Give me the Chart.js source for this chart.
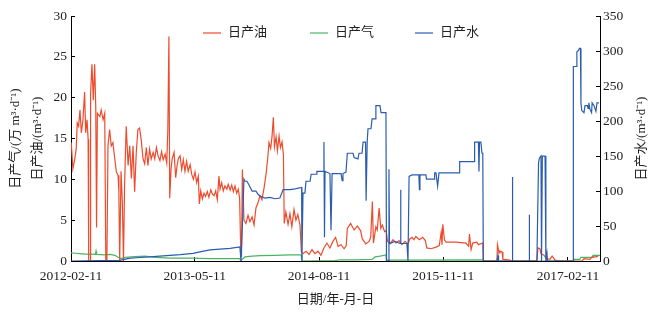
<!DOCTYPE html>
<html>
<head>
<meta charset="utf-8">
<script src="https://cdn.jsdelivr.net/npm/chart.js@4.4.1/dist/chart.umd.min.js"></script>
<style>
    body { margin: 0; background: #ffffff; }
    #grafico { display: block; }
</style>
</head>
<body>
<canvas id="grafico" width="656" height="312"></canvas>
<script>
// datas do eixo x (dias contados a partir de dataInicio)
const dataInicio = '2012-02-11';
const dataFim = '2017-06-09';
const rotulosX = ['2012-02-11', '2013-05-11', '2014-08-11', '2015-11-11', '2017-02-11'];

const nomesSeries = ['日产油', '日产气', '日产水'];

// 日产油 (m3/d), eixo esquerdo
const diasOleo = [
    1, 7, 14, 19, 23, 28, 33, 38, 44, 50,
    54, 59, 63, 65, 70, 72, 77, 82, 87, 91,
    94, 97, 106, 111, 118, 124, 128, 132, 136, 142,
    148, 154, 161, 167, 173, 176, 179, 184, 189, 193,
    197, 203, 210, 216, 222, 228, 234, 240, 246, 252,
    258, 265, 271, 277, 283, 289, 295, 302, 308, 314,
    320, 327, 333, 339, 346, 352, 356, 360, 363, 368,
    372, 379, 385, 390, 395, 401, 407, 413, 419, 425,
    431, 438, 444, 450, 456, 462, 468, 472, 477, 483,
    489, 495, 501, 507, 514, 520, 526, 532, 538, 544,
    548, 554, 560, 566, 573, 578, 585, 591, 597, 603,
    609, 615, 620, 624, 627, 630, 636, 643, 651, 658,
    666, 673, 680, 688, 695, 702, 710, 717, 723, 728,
    734, 739, 744, 748, 754, 759, 765, 770, 776, 781,
    784, 790, 798, 805, 812, 820, 827, 834, 842, 847,
    853, 864, 875, 886, 897, 908, 919, 930, 941, 952,
    963, 973, 982, 993, 1004, 1012, 1016, 1028, 1041, 1053,
    1065, 1071, 1084, 1096, 1102, 1108, 1112, 1121, 1126, 1133,
    1139, 1145, 1153, 1159, 1164, 1173, 1184, 1195, 1206, 1217,
    1228, 1239, 1246, 1254, 1261, 1268, 1281, 1293, 1303, 1308,
    1324, 1342, 1354, 1361, 1364, 1367, 1373, 1379, 1416, 1452,
    1462, 1465, 1471, 1477, 1492, 1498, 1514, 1516, 1566, 1568,
    1574, 1577, 1585, 1588, 1614, 1621, 1713, 1717, 1724, 1728,
    1739, 1747, 1761, 1769, 1780, 1798, 1879, 1886, 1908, 1916,
    1930, 1938
];
const valoresOleo = [
    14.5, 11.3, 12.5, 13.7, 16.9, 16.5, 18.5, 15.7, 17.3, 20.7,
    15.7, 17.3, 14.9, 0, 0, 20.5, 24.1, 19.7, 24.1, 18.9,
    4.1, 18.1, 17.7, 18.5, 17.3, 18.1, 0, 0, 14.1, 16.1,
    14.1, 14.5, 12.5, 10.9, 10.5, 8.5, 0, 11, 7, 0,
    9.3, 16.5, 11.7, 14.1, 10.1, 14.1, 8.5, 13.3, 16.1, 16.3,
    14.9, 12.5, 11.9, 13.9, 11.7, 13.7, 12.5, 13.3, 12.5, 13.9,
    12.9, 12.3, 13.4, 12.4, 13.1, 12.0, 16, 27.5, 7.7, 11.3,
    12.5, 13.3, 10.2, 11.7, 12.6, 12.9, 11.2, 12.4, 11.0, 12.2,
    11.0, 11.8, 10.6, 10.0, 10.9, 9.6, 10.4, 7.0, 8.6, 7.6,
    8.3, 7.9, 8.5, 7.8, 8.7, 8.2, 8.0, 8.6, 7.5, 10.4,
    8.8, 9.6, 8.6, 9.2, 8.8, 9.4, 8.7, 9.3, 8.5, 9.2,
    8.3, 8.8, 7.7, 1.3, 0.5, 11.2, 5.0, 4.6, 5.6, 4.8,
    5.4, 4.4, 6.5, 7.2, 8.0, 7.5, 9.0, 10.6, 12.5, 14.5,
    13.8, 15.2, 17.6, 14.0, 15.2, 13.5, 15.3, 13.9, 14.6, 13.0,
    4.6, 6.0, 4.5, 5.8, 4.2, 6.3, 5.0, 5.7, 4.4, 1.1,
    0.9, 1.2, 0.8, 1.4, 0.9, 1.2, 0.7, 1.6, 2.2, 1.6,
    2.4, 2.9, 1.8, 2.0, 1.5, 1.9, 4.0, 4.6, 3.8, 4.3,
    3.7, 2.7, 2.1, 2.4, 2.9, 7.3, 2.2, 4.2, 3.8, 6.5,
    4.0, 4.4, 3.6, 3.7, 2.4, 2.1, 2.6, 2.2, 2.5, 2.0,
    2.4, 2.1, 2.7, 2.9, 2.6, 3.0, 2.6, 2.9, 2.5, 1.6,
    1.5, 1.7, 1.9, 3.5, 2.0, 4.5, 2.6, 2.3, 2.3, 2.2,
    1.8, 3.3, 1.4, 2.2, 2.3, 2.0, 2.2, 0, 0, 2.0,
    1.0, 1.2, 1.1, 0.2, 0.1, 0, 0, 1.6, 1.5, 0.9,
    0.7, 0.3, 0.2, 0.6, 0.1, 0, 0, 0.3, 0.2, 0.5,
    0.5, 0.6
];

// 日产气 (万m3/d), eixo esquerdo
const diasGas = [
    0, 15, 33, 51, 70, 90, 92, 94, 125, 143,
    162, 173, 184, 199, 235, 272, 309, 364, 438, 511,
    566, 618, 625, 640, 666, 695, 750, 805, 846, 849,
    971, 989, 1044, 1107, 1118, 1136, 1158, 1160, 1515, 1519,
    1846, 1849, 1871, 1875, 1916, 1919, 1945
];
const valoresGas = [
    1.0, 0.95, 0.9, 0.85, 0.85, 0.8, 1.2, 0.8, 0.75, 0.8,
    0.7, 0.45, 0.3, 0.45, 0.55, 0.6, 0.45, 0.35, 0.35, 0.3,
    0.3, 0.3, 0.1, 0.5, 0.6, 0.65, 0.7, 0.75, 0.75, 0,
    0.05, 0.15, 0.15, 0.2, 0.5, 0.6, 0.75, 0.1, 0.15, 0,
    0, 0.2, 0.2, 0.45, 0.45, 0.7, 0.7
];

// 日产水 (m3/d), eixo direito
const diasAgua = [
    0, 107, 180, 191, 217, 254, 290, 327, 364, 401,
    449, 474, 511, 548, 585, 621, 625, 631, 636, 640,
    647, 654, 666, 680, 688, 695, 713, 732, 750, 768,
    780, 805, 824, 848, 849, 853, 860, 864, 879, 883,
    901, 904, 927, 930, 932, 934, 952, 956, 960, 993,
    997, 1000, 1011, 1016, 1037, 1041, 1055, 1059, 1070, 1074,
    1083, 1085, 1089, 1092, 1103, 1107, 1118, 1121, 1136, 1140,
    1158, 1160, 1167, 1169, 1171, 1191, 1210, 1212, 1213, 1235,
    1239, 1243, 1254, 1268, 1279, 1281, 1283, 1305, 1307, 1335,
    1337, 1342, 1348, 1353, 1427, 1429, 1482, 1484, 1498, 1500,
    1502, 1507, 1511, 1514, 1516, 1566, 1570, 1572, 1622, 1623,
    1624, 1684, 1685, 1686, 1713, 1719, 1722, 1728, 1730, 1733,
    1743, 1746, 1750, 1752, 1846, 1847, 1858, 1860, 1866, 1869,
    1873, 1875, 1878, 1886, 1890, 1899, 1901, 1904, 1908, 1914,
    1916, 1923, 1930, 1934, 1941
];
const valoresAgua = [
    0, 0.5, 1, 2, 4, 5, 6, 7, 8, 9,
    11, 13, 16, 17, 18, 20, 0, 60, 117, 114,
    114, 109, 100, 100, 95, 93, 90, 91, 89, 90,
    102, 102, 103, 105, 0, 97, 97, 114, 114, 124,
    124, 128, 128, 170, 34, 128, 125, 44, 125, 125,
    115, 125, 127, 154, 154, 148, 146, 154, 154, 170,
    170, 86, 170, 189, 189, 203, 203, 222, 222, 212,
    212, 0, 0, 131, 25, 28, 25, 102, 25, 25,
    0, 121, 123, 123, 123, 102, 123, 123, 117, 117,
    126, 126, 107, 126, 126, 142, 142, 170, 170, 128,
    170, 170, 154, 154, 0, 0, 8, 0, 0, 120,
    0, 0, 66, 0, 0, 140, 147, 150, 0, 150,
    150, 0, 11, 0, 0, 278, 278, 299, 301, 304,
    304, 226, 215, 212, 222, 222, 218, 226, 217, 212,
    226, 222, 214, 226, 226
];

const coresSeries = ['#ee4b2d', '#4bb463', '#2a5cb0'];
const fonteTexto = "'Liberation Serif', 'Noto Sans CJK SC', serif";
const corTexto = '#222222';

function diasDesde(data) {
    return (Date.parse(data) - Date.parse(dataInicio)) / 86400000;
}

function montarPontos(dias, valores) {
    let pontos = [];
    for (let i = 0; i < dias.length; i++) {
        pontos.push({ x: dias[i], y: valores[i] });
    }
    return pontos;
}

// legenda dentro da area do grafico + titulo do eixo direito (lido de baixo para cima)
const pluginExtras = {
    id: 'extras',
    afterDraw: function (chart) {
        const ctx = chart.ctx;
        const posX = [203, 310, 415];
        const posY = 33;
        ctx.save();
        ctx.font = '13px ' + fonteTexto;
        ctx.textBaseline = 'middle';
        ctx.textAlign = 'left';
        chart.data.datasets.forEach(function (ds, i) {
            ctx.strokeStyle = ds.borderColor;
            ctx.lineWidth = 1.2;
            ctx.beginPath();
            ctx.moveTo(posX[i], posY);
            ctx.lineTo(posX[i] + 18, posY);
            ctx.stroke();
            ctx.fillStyle = corTexto;
            ctx.fillText(ds.label, posX[i] + 25, posY);
        });

        const area = chart.chartArea;
        ctx.translate(642, (area.top + area.bottom) / 2);
        ctx.rotate(-Math.PI / 2);
        ctx.textAlign = 'center';
        ctx.fillText('日产水/(m³·d⁻¹)', 0, 0);
        ctx.restore();
    }
};

function plotarGrafico() {
    console.log('iniciando plotagem do gráfico...');

    let dados = {
        datasets: [{
            label: nomesSeries[0],
            data: montarPontos(diasOleo, valoresOleo),
            borderColor: coresSeries[0],
            yAxisID: 'y',
            order: 1
        }, {
            label: nomesSeries[1],
            data: montarPontos(diasGas, valoresGas),
            borderColor: coresSeries[1],
            yAxisID: 'y',
            order: 2
        }, {
            label: nomesSeries[2],
            data: montarPontos(diasAgua, valoresAgua),
            borderColor: coresSeries[2],
            yAxisID: 'y1',
            order: 0
        }]
    };

    dados.datasets.forEach(function (ds) {
        ds.borderWidth = 1.2;
        ds.pointRadius = 0;
        ds.tension = 0;
        ds.fill = false;
    });

    const fonteTicks = { family: fonteTexto, size: 13.5 };
    const fonteTitulo = { family: fonteTexto, size: 13 };

    const config = {
        type: 'line',
        data: dados,
        options: {
            responsive: false,
            animation: false,
            layout: { padding: { top: 12, left: 0, right: 0, bottom: 0 } },
            plugins: {
                legend: { display: false },
                tooltip: { enabled: false }
            },
            scales: {
                x: {
                    type: 'linear',
                    min: 0,
                    max: diasDesde(dataFim),
                    afterBuildTicks: function (scale) {
                        scale.ticks = rotulosX.map(function (r) { return { value: diasDesde(r) }; });
                    },
                    afterFit: function (scale) { scale.height = 51; },
                    ticks: {
                        autoSkip: false,
                        maxRotation: 0,
                        padding: 11,
                        color: corTexto,
                        font: fonteTicks,
                        callback: function (valor, indice) { return rotulosX[indice]; }
                    },
                    grid: { drawOnChartArea: false, tickLength: -4, tickColor: '#000', tickWidth: 1 },
                    border: { color: '#000', width: 1 },
                    title: {
                        display: true,
                        text: '日期/年-月-日',
                        color: corTexto,
                        font: fonteTitulo,
                        padding: { top: 0, bottom: 5 }
                    }
                },
                y: {
                    position: 'left',
                    min: 0,
                    max: 30,
                    afterFit: function (scale) { scale.width = 71; },
                    ticks: { stepSize: 5, padding: 8, color: corTexto, font: fonteTicks },
                    grid: { drawOnChartArea: false, tickLength: -4, tickColor: '#000', tickWidth: 1 },
                    border: { color: '#000', width: 1 },
                    title: {
                        display: true,
                        text: ['日产气/(万 m³·d⁻¹)', '日产油/(m³·d⁻¹)'],
                        color: corTexto,
                        font: { family: fonteTexto, size: 13, lineHeight: 1.65 },
                        padding: { top: 5, bottom: 0 }
                    }
                },
                y1: {
                    position: 'right',
                    min: 0,
                    max: 350,
                    afterFit: function (scale) { scale.width = 56; },
                    ticks: { stepSize: 50, padding: 7, color: corTexto, font: fonteTicks },
                    grid: { drawOnChartArea: false, tickLength: -4, tickColor: '#000', tickWidth: 1 },
                    border: { color: '#000', width: 1 },
                    title: { display: false }
                }
            }
        },
        plugins: [pluginExtras]
    };

    const ctx = document.getElementById('grafico').getContext('2d');
    if (window.meuGrafico) {
        window.meuGrafico.destroy();
    }
    window.meuGrafico = new Chart(ctx, config);
}

plotarGrafico();
</script>
</body>
</html>
